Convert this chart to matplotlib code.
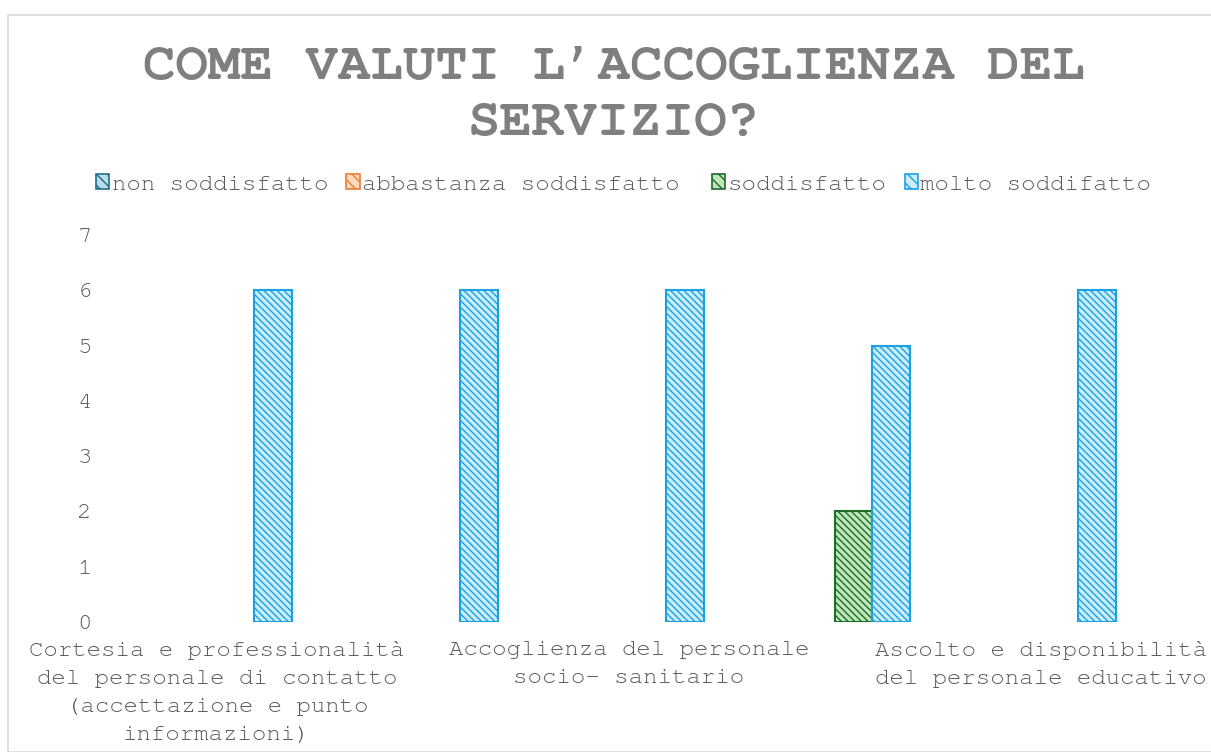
import numpy as np
import matplotlib.pyplot as plt
from matplotlib.patches import Rectangle
from matplotlib import font_manager

# ------------------------------------------------ DATA ----------------------------------------------------------------
categories = [
    "Cortesia e professionalità\ndel personale di contatto\n(accettazione e punto\ninformazioni)",
    "",
    "Accoglienza del personale\nsocio- sanitario",
    "",
    "Ascolto e disponibilità\ndel personale educativo",
]
series_names = ["non soddisfatto", "abbastanza soddisfatto ", "soddisfatto", "molto soddifatto"]
non_soddisfatto = [0, 0, 0, 0, 0]
abbastanza = [0, 0, 0, 0, 0]
soddisfatto = [0, 0, 0, 2, 0]
molto = [6, 6, 6, 5, 6]

edge_colors = ["#1f6e8c", "#ed7d31", "#1e6b2a", "#1ba1e2"]
face_colors = ["#bcdce8", "#fbd9c2", "#bfe8b8", "#c9edfb"]

title = "COME VALUTI L\u2019ACCOGLIENZA DEL\nSERVIZIO?"

# ------------------------------------------------ PLOT ----------------------------------------------------------------
wanted = ['Courier New', 'Nimbus Mono PS', 'FreeMono', 'Courier', 'Liberation Mono']
installed = {f.name for f in font_manager.fontManager.ttflist}
mono = [f for f in wanted if f in installed] + ['DejaVu Sans Mono']
plt.rcParams['font.family'] = mono
plt.rcParams['hatch.linewidth'] = 1.0

fs = 17.3

fig = plt.figure(figsize=(12.11, 7.52), dpi=100)
fig.patches.append(Rectangle((8 / 1211, 0), 1.2, 1 - 15 / 752, transform=fig.transFigure,
                             fill=False, edgecolor="#d9d9d9", linewidth=1.2))

ax = fig.add_axes([114 / 1211, 1 - 622 / 752, (1144 - 114) / 1211, (622 - 235) / 752])

x = np.arange(len(categories))
w = 0.182
hatch = '\\\\\\\\\\'
all_series = [non_soddisfatto, abbastanza, soddisfatto, molto]
handles = []
for i, vals in enumerate(all_series):
    ax.bar(x + (i - 1.5) * w, vals, w, facecolor=face_colors[i], edgecolor=edge_colors[i], hatch=hatch,
           linewidth=[1.5 if v > 0 else 0 for v in vals])
    handles.append(Rectangle((0, 0), 1, 1, facecolor=face_colors[i], edgecolor=edge_colors[i],
                             hatch='\\\\\\', linewidth=1.2))

ax.set_xlim(-0.5, len(categories) - 0.5)
ax.set_ylim(0, 7)
ax.set_yticks(range(8))
ax.set_xticks(x)
ax.set_xticklabels(categories, fontsize=fs, color="#595959", linespacing=1.7)
ax.tick_params(axis='y', length=0, pad=16, labelsize=fs, labelcolor="#595959")
ax.tick_params(axis='x', length=0, pad=14)
for s in ax.spines.values():
    s.set_visible(False)

fig.text(0.507, 1 - 96 / 752, title, ha='center', va='center', fontsize=39, fontweight='bold',
         color="#7f7f7f", linespacing=1.35)

fig.legend(handles, series_names, loc='center', bbox_to_anchor=(0.515, 1 - 184 / 752), ncol=4,
           frameon=False, fontsize=fs, handlelength=0.55, handleheight=0.55, handletextpad=0.1,
           columnspacing=0.75, labelcolor="#595959")

fig.savefig("out.png", dpi=100)
